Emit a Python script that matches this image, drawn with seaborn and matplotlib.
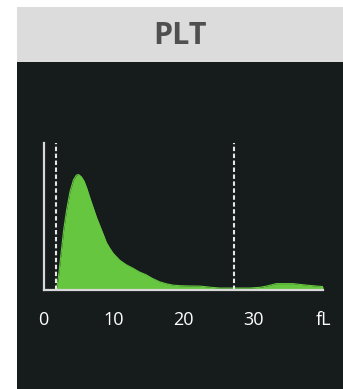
import matplotlib
matplotlib.use("Agg")
import matplotlib.pyplot as plt
from matplotlib.patches import Rectangle
import pandas as pd
import seaborn as sns

# Platelet volume distribution (fL) and relative counts
volume_fl = [1.8, 2.0, 2.2, 2.5, 2.9, 3.3, 3.8, 4.3, 4.7, 5.0, 5.4, 5.8, 6.2,
             6.6, 7.1, 7.6, 8.1, 8.6, 9.0, 9.5, 10.0, 10.5, 10.9, 11.8, 12.8,
             13.7, 14.7, 15.6, 16.6, 17.5, 18.5, 19.5, 20.9, 22.4, 24.0, 25.2,
             27.1, 29.5, 31.0, 31.9, 33.3, 35.7, 37.6, 39.2, 40.0]
counts = [0, 4, 11, 24, 41, 54, 67, 75, 78, 78.5, 77, 74, 69,
          63, 56, 49, 43, 37, 32, 28, 24.5, 22, 20, 17, 14.5,
          12, 10, 7.5, 5.3, 4, 3, 2.6, 2.4, 2.3, 1.5, 1,
          1, 1, 1.5, 2.3, 4, 4, 3, 2.3, 2]
discriminators = [1.8, 27.2]
major_ticks = [0, 10, 20, 30, 40]
major_labels = ["0", "10", "20", "30", "fL"]
minor_ticks = [5, 15, 25, 35]
title = "PLT"

BG = "#161b1c"
HEADER = "#dcdcdc"
GREEN = "#66c63f"
AXIS = "#d8d8d8"

sns.set_style("dark")
plt.rcParams["font.family"] = ["Open Sans", "DejaVu Sans"]
plt.rcParams["lines.scale_dashes"] = False

W, H = 343, 389
fig = plt.figure(figsize=(W / 100, H / 100), dpi=100)
fig.patch.set_facecolor("white")

# header bar and dark panel
fig.patches.append(Rectangle((17 / W, (H - 62) / H), (W - 17) / W, 55 / H,
                             transform=fig.transFigure, facecolor=HEADER,
                             edgecolor="none", zorder=-2))
fig.patches.append(Rectangle((17 / W, 0), (W - 17) / W, (H - 62) / H,
                             transform=fig.transFigure, facecolor=BG,
                             edgecolor="none", zorder=-2))
fig.text(180 / W, 1 - 36 / H, title, ha="center", va="center",
         fontsize=22, fontweight="bold", color="#505050")

x0, x1 = 43.5, 323.0
y_base, y_top = 289.5, 143.0
ax = fig.add_axes([x0 / W, (H - y_base) / H, (x1 - x0) / W, (y_base - y_top) / H])
ax.set_zorder(2)
ax.set_facecolor("none")

df = pd.DataFrame({"volume": volume_fl, "count": counts})
ax.fill_between(df["volume"], df["count"], 0, color=GREEN, lw=0, zorder=2)
sns.lineplot(data=df, x="volume", y="count", ax=ax, color=GREEN, lw=0.8,
             zorder=3)

for d in discriminators:
    ax.axvline(d, ymin=0, ymax=1, color="#e6e6e6", lw=1.5,
               linestyle=(0, (3.2, 1.8)), zorder=4)

ax.set_xlim(0, 40)
ax.set_ylim(0, 100)
ax.set_xlabel("")
ax.set_ylabel("")
ax.grid(False)

for side in ["top", "right"]:
    ax.spines[side].set_visible(False)
for side in ["left", "bottom"]:
    ax.spines[side].set_visible(True)
    ax.spines[side].set_color(AXIS)
    ax.spines[side].set_linewidth(1.6)
    ax.spines[side].set_zorder(5)

ax.set_yticks([])
ax.set_xticks(major_ticks)
ax.set_xticklabels(major_labels)
ax.set_xticks(minor_ticks, minor=True)
ax.tick_params(axis="x", which="major", direction="out", length=4.5, width=1.4,
               color=AXIS, labelcolor="white", labelsize=13, pad=11)
ax.tick_params(axis="x", which="minor", direction="out", length=3, width=1.4,
               color=AXIS)

fig.savefig("out.png", dpi=100, facecolor=fig.get_facecolor())
